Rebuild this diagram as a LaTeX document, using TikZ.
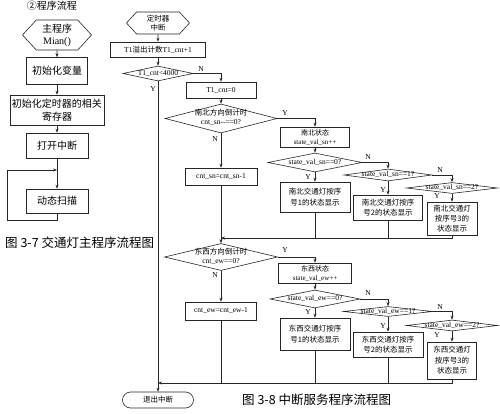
\documentclass[tikz,border=0pt]{standalone}
\usepackage{fontspec}
\setmainfont{Liberation Serif}
\newfontfamily\cjk{Noto Sans CJK SC}
\usetikzlibrary{positioning,arrows.meta,shapes.geometric,shapes.misc,shapes.symbols}
\newcommand{\dtxt}[1]{\makebox[0pt]{\begin{tabular}{@{}c@{}}#1\end{tabular}}}
\tikzset{
  conn/.style={line width=0.6pt,black!85},
  arr/.style={conn,-{Stealth[length=4pt,width=3pt]}},
  flowbox/.style={draw=black!85,line width=0.6pt,inner sep=1pt,align=center,
                  font=\fontsize{7.5}{9.5}\selectfont},
  mainbox/.style={flowbox,font=\fontsize{10}{13}\selectfont\cjk},
  decide/.style={diamond,draw=black!85,line width=0.6pt,inner sep=0pt,
                 font=\fontsize{7.5}{9}\selectfont},
  hexa/.style={signal,signal to=west and east,signal pointer angle=95,
               draw=black!85,line width=0.6pt,inner sep=0pt,align=center},
  yn/.style={inner sep=0pt,font=\fontsize{7.5}{8}\selectfont},
  capt/.style={inner sep=0pt,anchor=west,font=\fontsize{12.5}{14}\selectfont\cjk},
}
\begin{document}
\begin{tikzpicture}[x=1pt,y=-1pt]
  \useasboundingbox (0,0) rectangle (500,414);
  % main program
  \node[inner sep=0pt,font=\fontsize{10}{12}\selectfont\cjk] (title) at (52,6) {②程序流程};
  \node[hexa,minimum width=69pt,minimum height=30pt,font=\fontsize{10}{12}\selectfont] (m0) at (57,35) {{\cjk 主程序}\\Mian()};
  \node[mainbox,minimum width=61pt,minimum height=27pt] (m1) at (57,71) {初始化变量};
  \node[mainbox,minimum width=94pt,minimum height=30pt] (m2) at (57,110) {初始化定时器的相关\\寄存器};
  \node[mainbox,minimum width=62pt,minimum height=25pt] (m3) at (57,145.5) {打开中断};
  \node[mainbox,minimum width=62pt,minimum height=24pt] (m4) at (57,201) {动态扫描};
  \coordinate (mj) at (57,170);
  \coordinate (mloop) at (7,220);
  \draw[arr] (m0) -- (m1);
  \draw[arr] (m1) -- (m2);
  \draw[arr] (m2) -- (m3);
  \draw[conn] (m3) -- (mj);
  \draw[arr] (mj) -- (m4);
  \draw[arr] (m4.south) |- (mloop) |- (mj);
  \node[capt] (cap1) at (5,243) {图 3-7 交通灯主程序流程图};

  % interrupt routine
  \node[hexa,minimum width=63pt,minimum height=22pt,font=\fontsize{7.5}{9}\selectfont\cjk] (i0) at (158,23) {定时器\\中断};
  \node[flowbox,minimum width=95pt,minimum height=15pt] (i1) at (158,49.5) {T1{\cjk 溢出计数}T1\_cnt+1};
  \node[decide,minimum width=70pt,minimum height=15pt] (d0) at (158,73.5) {\dtxt{T1\_cnt<4000}};
  \node[flowbox,minimum width=70pt,minimum height=16pt] (i2) at (221,90) {T1\_cnt=0};
  \node[decide,minimum width=112pt,minimum height=29pt] (d1) at (221,118.5) {\dtxt{{\cjk 南北方向倒计时}\\cnt\_sn-{}-==0?}};
  \node[flowbox,minimum width=69pt,minimum height=20pt,font=\fontsize{7}{9}\selectfont] (i3) at (315,137) {{\cjk 南北状态}\\state\_val\_sn++};
  \node[flowbox,minimum width=72pt,minimum height=17pt] (i4) at (221,176.5) {cnt\_sn=cnt\_sn-1};
  \node[decide,minimum width=94pt,minimum height=19pt] (d2) at (315,162.5) {\dtxt{state\_val\_sn==0?}};
  \node[decide,minimum width=88pt,minimum height=12pt] (d3) at (388,175) {\dtxt{state\_val\_sn==1?}};
  \node[decide,minimum width=91pt,minimum height=11pt] (d4) at (452,188) {\dtxt{state\_val\_sn==2?}};
  \node[flowbox,minimum width=70pt,minimum height=30pt,font=\fontsize{7.5}{11}\selectfont\cjk] (b1) at (315,197) {南北交通灯按序\\号1的状态显示};
  \node[flowbox,minimum width=69pt,minimum height=25pt,font=\fontsize{7.5}{10}\selectfont\cjk] (b2) at (388,207.5) {南北交通灯按序\\号2的状态显示};
  \node[flowbox,minimum width=50pt,minimum height=33pt,font=\fontsize{7.5}{10}\selectfont\cjk] (b3) at (452,218.5) {南北交通灯\\按序号3的\\状态显示};
  \node[decide,minimum width=113pt,minimum height=27pt] (d5) at (221,257) {\dtxt{{\cjk 东西方向倒计时}\\cnt\_ew==0?}};
  \node[flowbox,minimum width=73pt,minimum height=20pt,font=\fontsize{7}{9}\selectfont] (i5) at (315,273) {{\cjk 东西状态}\\state\_val\_ew++};
  \node[flowbox,minimum width=71pt,minimum height=18pt] (i6) at (221,311) {cnt\_ew=cnt\_ew-1};
  \node[decide,minimum width=90pt,minimum height=18pt] (d6) at (315,299) {\dtxt{state\_val\_ew==0?}};
  \node[decide,minimum width=89pt,minimum height=10pt] (d7) at (388,311.5) {\dtxt{state\_val\_ew==1?}};
  \node[decide,minimum width=91pt,minimum height=11pt] (d8) at (452,325.5) {\dtxt{state\_val\_ew==2?}};
  \node[flowbox,minimum width=70pt,minimum height=32pt,font=\fontsize{7.5}{11}\selectfont\cjk] (b4) at (315,334) {东西交通灯按序\\号1的状态显示};
  \node[flowbox,minimum width=70pt,minimum height=25pt,font=\fontsize{7.5}{10}\selectfont\cjk] (b5) at (388,344.5) {东西交通灯按序\\号2的状态显示};
  \node[flowbox,minimum width=49pt,minimum height=37pt,font=\fontsize{7.5}{10.5}\selectfont\cjk] (b6) at (452,360.5) {东西交通灯\\按序号3的\\状态显示};
  \node[rounded rectangle,draw=black!85,line width=0.6pt,minimum width=71pt,minimum height=16pt,
        inner sep=0pt,font=\fontsize{7.5}{9}\selectfont\cjk] (ex) at (158,400) {退出中断};
  \node[capt] (cap2) at (242,400) {图 3-8 中断服务程序流程图};

  % Y / N labels
  \node[yn] (n0) at (201,69) {N};
  \node[yn] (y0) at (153,89) {Y};
  \node[yn] (y1) at (285,113) {Y};
  \node[yn] (n1) at (215,139) {N};
  \node[yn] (n2) at (368,157) {N};
  \node[yn] (y2) at (308,177) {Y};
  \node[yn] (n3) at (440,170) {N};
  \node[yn] (y3) at (383,190) {Y};
  \node[yn] (y4) at (437,196.5) {Y};
  \node[yn] (y5) at (285,250) {Y};
  \node[yn] (n5) at (215,275) {N};
  \node[yn] (n6) at (368,293) {N};
  \node[yn] (y6) at (308,312) {Y};
  \node[yn] (n7) at (440,307) {N};
  \node[yn] (y7) at (383,326) {Y};
  \node[yn] (y8) at (437,335.5) {Y};

  % connectors
  \coordinate (ewm) at (158,383);
  \coordinate (nsm) at (221,238);
  \draw[arr] (i0) -- (i1);
  \draw[arr] (i1) -- (d0);
  \draw[conn] (d0) -- (ewm);
  \draw[arr] (ewm) -- (ex);
  \draw[arr] (d0.east) -| (i2.north);
  \draw[arr] (i2) -- (d1);
  \draw[arr] (d1.east) -| (i3.north);
  \draw[arr] (d1) -- (i4);
  \draw[arr] (i3) -- (d2);
  \draw[arr] (d2) -- (b1);
  \draw[arr] (d2.east) -| (d3.north);
  \draw[arr] (d3) -- (b2);
  \draw[arr] (d3.east) -| (d4.north);
  \draw[arr] (d4) -- (b3);
  \draw[arr] (b3.south) |- (nsm);
  \draw[conn] (b1.south) -- (b1.south |- nsm);
  \draw[conn] (b2.south) -- (b2.south |- nsm);
  \draw[arr] (i4) -- (d5);
  \draw[arr] (d5.east) -| (i5.north);
  \draw[arr] (d5) -- (i6);
  \draw[arr] (i5) -- (d6);
  \draw[arr] (d6) -- (b4);
  \draw[arr] (d6.east) -| (d7.north);
  \draw[arr] (d7) -- (b5);
  \draw[arr] (d7.east) -| (d8.north);
  \draw[arr] (d8) -- (b6);
  \draw[arr] (b6.south) |- (ewm);
  \draw[conn] (b4.south) -- (b4.south |- ewm);
  \draw[conn] (b5.south) -- (b5.south |- ewm);
  \draw[conn] (i6.south) -- (i6.south |- ewm);
\end{tikzpicture}
\end{document}
